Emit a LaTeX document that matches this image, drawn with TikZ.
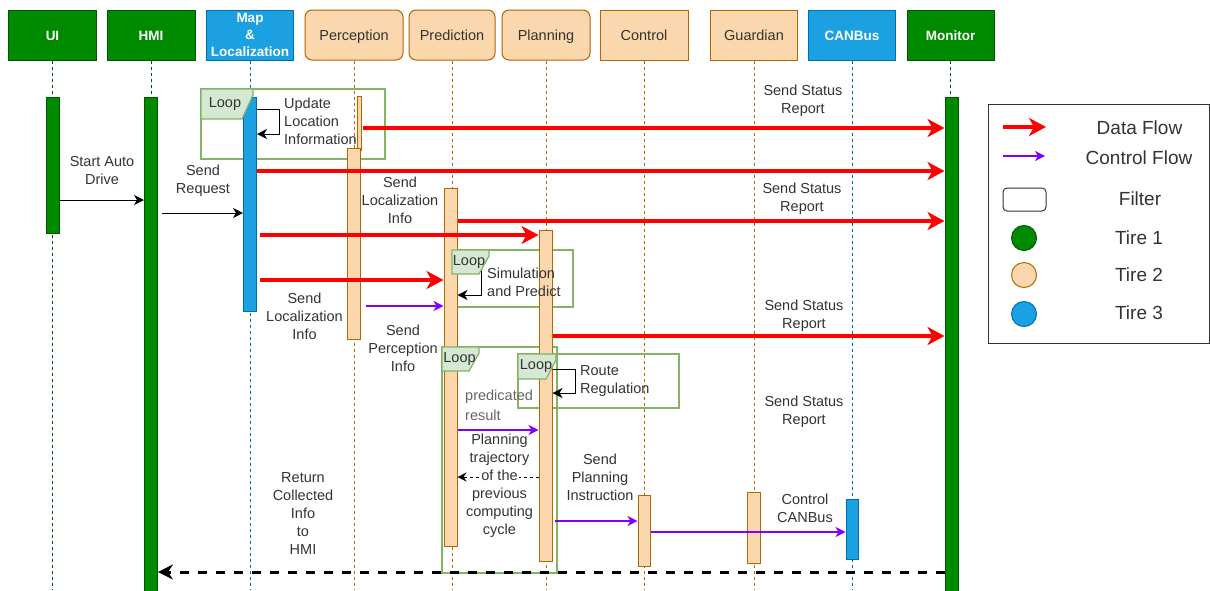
\documentclass[tikz,border=0pt]{standalone}
\usepackage{fontspec}
\setmainfont{Liberation Sans}
\usetikzlibrary{arrows.meta,positioning}

\definecolor{tgreen}{HTML}{008A00}
\definecolor{tgreenline}{HTML}{005700}
\definecolor{torange}{HTML}{FAD7AC}
\definecolor{torangeline}{HTML}{B46504}
\definecolor{tblue}{HTML}{1BA1E2}
\definecolor{tblueline}{HTML}{006EAF}
\definecolor{loopline}{HTML}{82B366}
\definecolor{loopfill}{HTML}{D5E8D4}
\definecolor{ctrlpurple}{HTML}{7F00FF}
\definecolor{labeltext}{HTML}{333333}

\tikzset{
  header/.style={rectangle, minimum height=50pt, inner sep=0pt, line width=1pt, align=center, font=\fontsize{14.5}{17}\selectfont},
  oneline/.style={text height=13.4pt, text depth=3pt},
  tierone/.style={fill=tgreen, draw=tgreenline, text=white, font=\fontsize{13.5}{17}\selectfont\bfseries},
  tiertwo/.style={fill=torange, draw=torangeline, text=labeltext},
  tierthree/.style={fill=tblue, draw=tblueline, text=white, font=\fontsize{13.5}{17}\selectfont\bfseries},
  lifeline/.style={line width=1pt, dash pattern=on 3pt off 3pt},
  actbar/.style={rectangle, inner sep=0pt, minimum width=13pt, line width=1pt},
  greenbar/.style={actbar, fill=tgreen, draw=tgreenline},
  orangebar/.style={actbar, fill=torange, draw=torangeline},
  bluebar/.style={actbar, fill=tblue, draw=tblueline},
  dataflow/.style={draw=red, line width=3.5pt, -{Stealth[length=17pt,width=18pt,inset=5pt]}},
  ctrlflow/.style={draw=ctrlpurple, line width=1.5pt, -{Stealth[length=10pt,width=10pt,inset=3pt]}},
  callflow/.style={draw=black, line width=1pt, -{Stealth[length=10pt,width=10pt,inset=3pt]}},
  replyflow/.style={draw=black, line width=1pt, dash pattern=on 3pt off 3pt, -{Stealth[length=9pt,width=9pt,inset=3pt]}},
  returnflow/.style={draw=black, line width=3pt, dash pattern=on 9pt off 9pt, -{Stealth[length=15pt,width=15pt,inset=5pt]}},
  selfloop/.style={draw=black, line width=1pt, -{Stealth[length=10pt,width=10pt,inset=3pt]}},
  loopframe/.style={draw=loopline, line width=1.2pt},
  looptab/.style={fill=loopfill, draw=loopline, line width=1.2pt},
  looplabel/.style={text=labeltext, inner sep=0pt, font=\fontsize{14.5}{17}\selectfont},
  msglabel/.style={align=center, text=labeltext, inner sep=0pt, font=\fontsize{14.5}{18}\selectfont},
  legendtext/.style={text=labeltext, inner sep=0pt, font=\fontsize{19}{22}\selectfont},
}

\begin{document}
\begin{tikzpicture}[x=1pt, y=-1pt]
    \fill[white] (0,0) rectangle (1210,590);
    \useasboundingbox (0,0) rectangle (1210,590);

    \node[header, oneline, tierone, minimum width=88pt] (ui) at (52.5,35) {UI};
    \node[header, oneline, tierone, minimum width=88pt] (hmi) at (151,35) {HMI};
    \node[header, tierthree, minimum width=87pt] (map) at (250,35) {Map\\\&\\Localization};
    \node[header, oneline, tiertwo, rounded corners=7pt, minimum width=98pt] (perc) at (354,35) {Perception};
    \node[header, oneline, tiertwo, rounded corners=7pt, minimum width=86pt] (pred) at (452,35) {Prediction};
    \node[header, oneline, tiertwo, rounded corners=7pt, minimum width=88pt] (plan) at (546,35) {Planning};
    \node[header, oneline, tiertwo, minimum width=88pt] (ctrl) at (644,35) {Control};
    \node[header, oneline, tiertwo, minimum width=87pt] (guard) at (754,35) {Guardian};
    \node[header, oneline, tierthree, minimum width=87pt] (can) at (852,35) {CANBus};
    \node[header, oneline, tierone, minimum width=87pt] (mon) at (950.5,35) {Monitor};

    \draw[lifeline, tgreenline] (ui.south) -- (ui.south |- 0,590);
    \draw[lifeline, tgreenline] (hmi.south) -- (hmi.south |- 0,590);
    \draw[lifeline, tblueline] (map.south) -- (map.south |- 0,590);
    \draw[lifeline, torangeline] (perc.south) -- (perc.south |- 0,590);
    \draw[lifeline, torangeline] (pred.south) -- (pred.south |- 0,590);
    \draw[lifeline, torangeline] (plan.south) -- (plan.south |- 0,590);
    \draw[lifeline, torangeline] (ctrl.south) -- (ctrl.south |- 0,590);
    \draw[lifeline, torangeline] (guard.south) -- (guard.south |- 0,590);
    \draw[lifeline, tblueline] (can.south) -- (can.south |- 0,590);
    \draw[lifeline, tgreenline] (mon.south) -- (mon.south |- 0,590);

    \draw[loopframe] (201,89) rectangle (385,159);
    \draw[loopframe] (452,250) rectangle (573,307);
    \draw[loopframe] (442,347) rectangle (557,573);
    \draw[loopframe] (518,354) rectangle (679,408);

    \node[greenbar, minimum height=136pt] (uibar) at (ui |- 0,165) {};
    \node[greenbar, minimum height=494pt] (hmibar) at (hmi |- 0,344) {};
    \node[bluebar, minimum height=214pt] (mapbar) at (map |- 0,204) {};
    \node[orangebar, minimum width=3.5pt, minimum height=54pt] (percthin) at ([xshift=5.3pt]perc |- 0,123) {};
    \node[orangebar, minimum height=191pt] (percbar) at (perc |- 0,243.5) {};
    \node[orangebar, minimum height=358pt] (predbar) at ([xshift=-1.5pt]pred |- 0,367) {};
    \node[orangebar, minimum height=331pt] (planbar) at ([xshift=-0.5pt]plan |- 0,395.5) {};
    \node[orangebar, minimum width=12pt, minimum height=71pt] (ctrlbar) at (ctrl |- 0,530.5) {};
    \node[orangebar, minimum height=71pt] (guardbar) at (guard |- 0,527.5) {};
    \node[bluebar, minimum width=12pt, minimum height=60pt] (canbar) at (can |- 0,529) {};
    \node[greenbar, minimum height=494pt] (monbar) at ([xshift=1pt]mon |- 0,344) {};

    \draw[callflow] (uibar.east |- 0,200) -- (hmibar.west |- 0,200);
    \draw[callflow] ([xshift=4pt]hmibar.east |- 0,213) -- (mapbar.west |- 0,213);

    \draw[dataflow] ([xshift=1pt]percthin.east |- 0,128) -- (monbar.west |- 0,128);
    \draw[dataflow] (mapbar.east |- 0,171) -- (monbar.west |- 0,171);
    \draw[dataflow] (predbar.east |- 0,221) -- (monbar.west |- 0,221);
    \draw[dataflow] ([xshift=3pt]mapbar.east |- 0,235) -- (planbar.west |- 0,235);
    \draw[dataflow] ([xshift=3pt]mapbar.east |- 0,280) -- (predbar.west |- 0,280);
    \draw[dataflow] (planbar.east |- 0,336) -- (monbar.west |- 0,336);

    \draw[ctrlflow] ([xshift=5pt]percbar.east |- 0,306) -- (predbar.west |- 0,306);
    \draw[ctrlflow] (predbar.east |- 0,430) -- (planbar.west |- 0,430);
    \draw[ctrlflow] ([xshift=2pt]planbar.east |- 0,521) -- (ctrlbar.west |- 0,521);
    \draw[ctrlflow] (ctrlbar.east |- 0,532) -- (canbar.west |- 0,532);

    \draw[replyflow] (planbar.west |- 0,477) -- (predbar.east |- 0,477);
    \draw[returnflow] (monbar.west |- 0,572) -- (hmibar.east |- 0,572);

    \draw[selfloop] (predbar.east |- 0,266) -| (481,295) -- (predbar.east |- 0,295);

    \draw[looptab] (201,89) -- (253,89) -- (253,95) -- (242,119) -- (201,119) -- cycle;
    \draw[looptab] (452,250) -- (489,250) -- (489,256) -- (479,274) -- (452,274) -- cycle;
    \draw[looptab] (442,347) -- (479,347) -- (479,353) -- (469,371) -- (442,371) -- cycle;
    \draw[looptab] (518,354) -- (556,354) -- (556,360) -- (546,379) -- (518,379) -- cycle;
    \node[looplabel] (loopatxt) at (225,104) {Loop};
    \node[looplabel] (loopbtxt) at (469,262) {Loop};
    \node[looplabel] (loopctxt) at (459.5,359) {Loop};
    \node[looplabel] (loopdtxt) at (536,366) {Loop};

    \draw[selfloop] (mapbar.east |- 0,109) -| (279,134) -- (mapbar.east |- 0,134);
    \draw[selfloop] (planbar.east |- 0,369) -| (575,393) -- (planbar.east |- 0,393);

    \node[msglabel] (startlbl) at (102,171) {Start Auto\\Drive};
    \node[msglabel] (reqlbl) at (203,181) {Send\\Request};
    \node[msglabel, anchor=west, align=left] (updlbl) at (284,121) {Update\\Location\\Information};
    \node[msglabel] (statusa) at (803,100.5) {Send Status\\Report};
    \node[msglabel] (loclbla) at (400,200) {Send\\Localization\\Info};
    \node[msglabel] (statusb) at (802,199) {Send Status\\Report};
    \node[msglabel, anchor=west, align=left] (simlbl) at (487,282) {Simulation\\and Predict};
    \node[msglabel] (loclblb) at (304.5,316) {Send\\Localization\\Info};
    \node[msglabel] (statusc) at (804,315.5) {Send Status\\Report};
    \node[msglabel] (perclbl) at (403,348) {Send\\Perception\\Info};
    \node[msglabel, anchor=west, align=left] (routelbl) at (580,381) {Route\\Regulation};
    \node[msglabel, anchor=west, align=left, text=black!60, font=\fontsize{14.5}{20}\selectfont] (predres) at (465,405) {predicated\\result};
    \node[msglabel] (statusd) at (804,411.5) {Send Status\\Report};
    \node[msglabel] (trajlbl) at (499.5,485.5) {Planning\\trajectory\\{\fboxsep=1pt\colorbox{white}{of the}}\\previous\\computing\\cycle};
    \node[msglabel] (instlbl) at (600,477) {Send\\Planning\\Instruction};
    \node[msglabel] (canlbl) at (805,508) {Control\\CANBus};
    \node[msglabel] (retlbl) at (303,514) {Return\\Collected\\Info\\to\\HMI};

    \node[draw=labeltext, line width=1pt, minimum width=221pt, minimum height=239pt, inner sep=0pt] (legend) at (1098.5,223.5) {};
    \coordinate (dfstart) at (1003,127);
    \coordinate (dfend) at (1046,127);
    \draw[dataflow] (dfstart) -- (dfend);
    \node[legendtext] (dflbl) at (1139.5,128) {Data Flow};
    \coordinate (cfstart) at (1003,156);
    \coordinate (cfend) at (1045,156);
    \draw[ctrlflow] (cfstart) -- (cfend);
    \node[legendtext] (cflbl) at (1139,158) {Control Flow};
    \node[draw=labeltext, line width=1pt, rounded corners=4pt, minimum width=43pt, minimum height=23pt, inner sep=0pt] (filterkey) at (1024.5,199.5) {};
    \node[legendtext] (filterlbl) at (1140,199) {Filter};
    \node[circle, fill=tgreen, draw=tgreenline, line width=1pt, minimum size=25pt, inner sep=0pt] (tonekey) at (1024,238) {};
    \node[legendtext] (tonelbl) at (1139,238) {Tire 1};
    \node[circle, fill=torange, draw=torangeline, line width=1pt, minimum size=25pt, inner sep=0pt] (ttwokey) at (1024,275) {};
    \node[legendtext] (ttwolbl) at (1139,275) {Tire 2};
    \node[circle, fill=tblue, draw=tblueline, line width=1pt, minimum size=25pt, inner sep=0pt] (tthreekey) at (1024,314) {};
    \node[legendtext] (tthreelbl) at (1139,313) {Tire 3};
\end{tikzpicture}
\end{document}
